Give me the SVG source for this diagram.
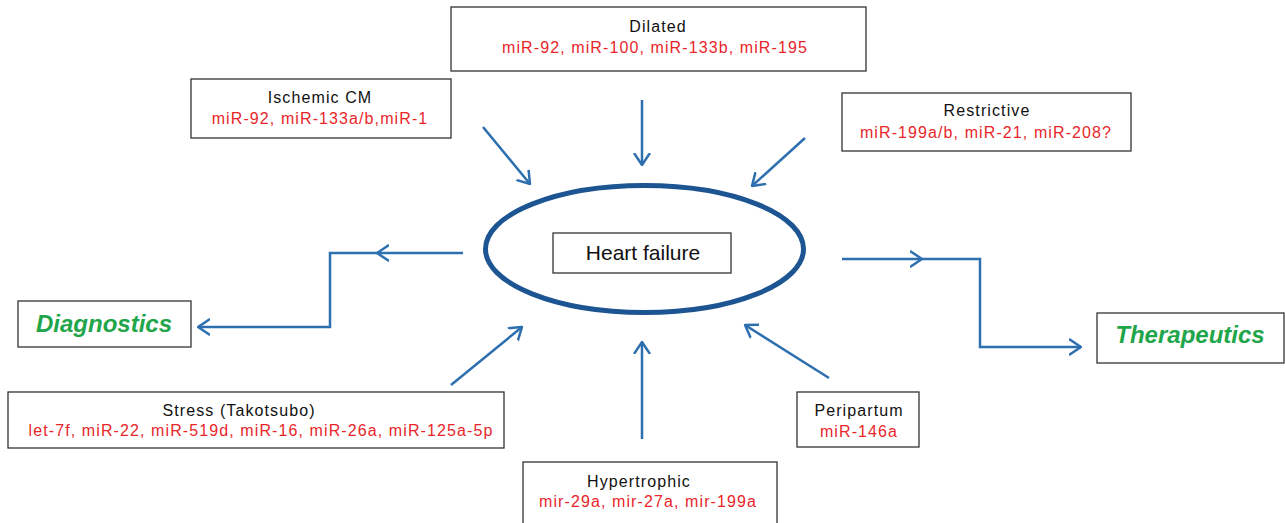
<svg xmlns="http://www.w3.org/2000/svg" width="1285" height="523" viewBox="0 0 1285 523">
<defs>
<style>
.box{fill:#fff;stroke:#333;stroke-width:1.3}
.t{font-family:"Liberation Sans",Arial,sans-serif;font-size:16px;letter-spacing:1.1px;text-anchor:middle;fill:#111}
.r{font-family:"Liberation Sans",Arial,sans-serif;font-size:16px;letter-spacing:1.1px;text-anchor:middle;fill:#e8262a}
.g{font-family:"Liberation Sans",Arial,sans-serif;font-size:24px;font-weight:bold;font-style:italic;text-anchor:middle;fill:#1fa64a}
.c{fill:none;stroke:#2e6fb0;stroke-width:2.5;marker-end:url(#ah)}
</style>
<marker id="ah" markerUnits="userSpaceOnUse" viewBox="0 0 13 18" refX="12" refY="9" markerWidth="13" markerHeight="18" orient="auto">
<path d="M0,1 L12,9 L0,17" fill="none" stroke="#2e6fb0" stroke-width="2.5"/>
</marker>
</defs>
<g id="connectors">
<path class="c" d="M642,100 L642,165"/>
<path class="c" d="M483,127 L530,184"/>
<path class="c" d="M805,138 L752,186"/>
<path class="c" d="M451,385 L522,327"/>
<path class="c" d="M642,439 L642,342"/>
<path class="c" d="M829,378 L745,325"/>
<path class="c" d="M463,253 L377,253"/>
<path class="c" d="M377,253 L330,253 L330,327 L198,327"/>
<path class="c" d="M842,259 L922,259"/>
<path class="c" d="M922,259 L980,259 L980,347 L1081,347"/>
</g>
<g id="heart-failure">
<ellipse cx="644.5" cy="249" rx="159" ry="63.5" fill="none" stroke="#1d5592" stroke-width="5"/>
<rect class="box" x="553" y="233" width="178" height="40"/>
<text x="643" y="260" style="font-family:'Liberation Sans',Arial,sans-serif;font-size:21px;text-anchor:middle;fill:#111">Heart failure</text>
</g>
<g id="dilated">
<rect class="box" x="451" y="7" width="415" height="64"/>
<text class="t" x="658" y="32">Dilated</text>
<text class="r" x="655" y="53">miR-92, miR-100, miR-133b,  miR-195</text>
</g>
<g id="ischemic">
<rect class="box" x="191" y="79" width="260" height="59"/>
<text class="t" x="320" y="103">Ischemic CM</text>
<text class="r" x="320" y="124">miR-92, miR-133a/b,miR-1</text>
</g>
<g id="restrictive">
<rect class="box" x="842" y="93" width="289" height="58"/>
<text class="t" x="987" y="116">Restrictive</text>
<text class="r" x="986" y="138">miR-199a/b, miR-21, miR-208?</text>
</g>
<g id="diagnostics">
<rect class="box" x="18" y="301" width="173" height="46"/>
<text class="g" x="104" y="332">Diagnostics</text>
</g>
<g id="therapeutics">
<rect class="box" x="1097" y="313" width="187" height="50"/>
<text class="g" x="1190" y="343">Therapeutics</text>
</g>
<g id="stress">
<rect class="box" x="8" y="392" width="496" height="56"/>
<text class="t" x="239" y="416">Stress (Takotsubo)</text>
<text class="r" x="261" y="436">let-7f, miR-22, miR-519d, miR-16, miR-26a, miR-125a-5p</text>
</g>
<g id="peripartum">
<rect class="box" x="797" y="392" width="122" height="55"/>
<text class="t" x="859" y="416">Peripartum</text>
<text class="r" x="859" y="437">miR-146a</text>
</g>
<g id="hypertrophic">
<rect class="box" x="523" y="462" width="254" height="70"/>
<text class="t" x="639" y="487">Hypertrophic</text>
<text class="r" x="648" y="507">mir-29a, mir-27a, mir-199a</text>
</g>
</svg>
